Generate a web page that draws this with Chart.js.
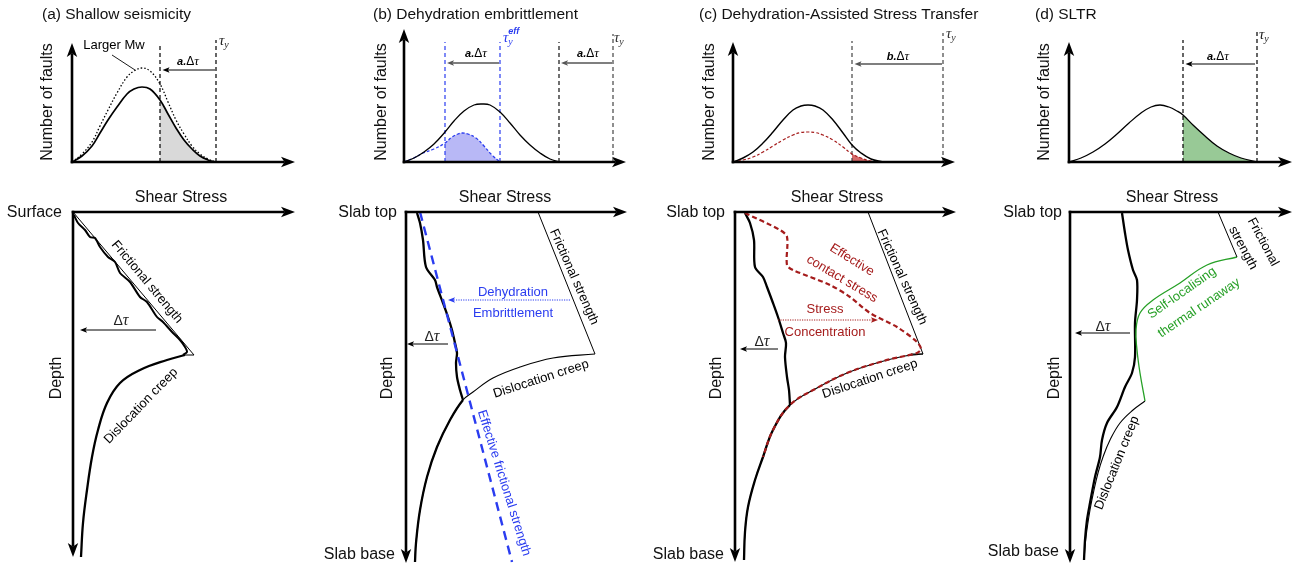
<!DOCTYPE html>
<html><head><meta charset="utf-8">
<script src="https://cdn.jsdelivr.net/npm/chart.js@4.4.1/dist/chart.umd.min.js"></script>
<style>
html,body{margin:0;padding:0;background:#fff;width:1304px;height:567px;overflow:hidden}
canvas{position:absolute;left:0;top:0}
</style></head><body>
<script>
// ======================= DATA =======================
// Top row: distribution of fault stress (x = shear stress, y = number of faults)
// (a) Shallow seismicity
const aTopStress = [0,10,20,28,36,45,55,62,70,78,88,96,104,112,120,128,136,143];
const aTopFaults = [0,6,16,29,42,55,68,73,75,73,62,48,34,22,13,6,2,0];
const aTopFaultsLargerMw = [0,8,20,36,52,69,85,91,94,91,78,60,42,28,16,8,3,0];
const aTopFailure = 88, aTopTauY = 144;
// (b) Dehydration embrittlement
const bTopStress = [0,10,20,30,41,50,60,70,78,86,96,106,116,126,136,146,156];
const bTopFaults = [0,4,10,18,30,41,51,57,58,57,50,39,27,17,9,3,0];
const bTopStressEff = [0,10,19,30,41,48,54,58,64,72,80,88,96];
const bTopFaultsEff = [0,4,9,13,19,25,28,29,28,24,16,7,0];
const bTopEffFailure = 41, bTopTauYEff = 96, bTopFailure = 155, bTopTauY = 209;
// (c) Dehydration-Assisted Stress Transfer
const cTopStress = [0,10,20,30,40,50,60,68,75,82,90,100,110,119,128,138,150];
const cTopFaults = [0,4,10,19,30,42,52,56,57,56,52,42,29,17,9,3,0];
const cTopFaultsEff = [0,2,5,10,16,22,27,29.5,30,29.5,27,22,15,8,4,1,0];
const cTopFailure = 119, cTopTauY = 210;
// (d) SLTR
const dTopStress = [0,12,24,36,48,60,72,82,91,100,108,114,124,136,148,160,172,188];
const dTopFaults = [0,4,10,18,28,39,49,55,57,55,51,47,37,26,16,9,4,0];
const dTopFailure = 114, dTopTauY = 188;

// Bottom row: strength profiles, [shear stress, depth]
const aFriction = [[0,0],[121,143],[112,143]];
const aCreep = [[112,143],[94,148],[67,158],[47,171],[34,191],[25,218],[19,245],[14,278],[10,311],[8,345]];
const aStress = [[1,3],[5,11],[12,18],[17,25],[22,26],[27,35],[35,45],[42,50],[47,61],[57,70],[67,85],[74,90],[84,105],[90,110],[100,121],[107,128],[112,135],[114,140],[110,143]];

const bFriction = [[132,0],[189,142]];
const bCreep = [[189,142],[147,146],[114,155],[87,166],[67,180],[57,188],[44,208],[31,235],[21,265],[14,298],[10,331],[9,350]];
const bStress = [[11,1],[14,11],[17,28],[20,55],[29,68],[31,75],[37,91],[42,105],[46,118],[49,131],[51,141],[50,151],[51,165],[54,178],[57,188]];
const bJunctionDepth = 188;
const bEffFriction = [[14,0],[106,350]];

const cFriction = [[133,0],[188,142],[176,142]];
const cCreep = [[188,142],[170,144],[145,150],[112,161],[82,176],[55,193],[38,218],[28,245],[20,268],[13,295],[10,320],[9,348]];
const cStress = [[10,1],[15,11],[19,28],[20,55],[28,65],[32,75],[38,91],[43,105],[48,121],[51,131],[50,145],[52,165],[54,178],[55,193]];
const cJunctionDepth = 193;
const cContact = [[10,1],[45,18],[52,25],[52,53],[58,58],[95,73],[115,85],[135,101],[162,115],[182,130],[186,137],[182,141],[170,144]];
const cContactCreepFrom = 144, cContactCreepTo = 245;

const dFriction = [[148,0],[167,45]];
const dRunaway = [[167,45],[137,53],[110,71],[83,88],[70,101],[66,118],[67,138],[70,161],[75,189]];
const dCreep = [[75,189],[63,198],[50,211],[40,228],[33,245],[28,261],[24,278],[20,298],[16,325],[14,348]];
const dStress = [[52,1],[55,21],[58,38],[63,58],[67,68],[67,88],[65,111],[65,145],[62,161],[55,175],[47,195],[37,211],[32,228],[30,245],[25,265],[20,291],[17,308],[15,328],[14,348]];

// ======================= RENDER =======================
const W = 1304, H = 567;
const SANS = '"Liberation Sans", Arial, Helvetica, sans-serif';
const SERIF = '"Liberation Serif", "DejaVu Serif", "Times New Roman", serif';
const BLUE = '#2a3cf0', RED = '#a51c1c', GREEN = '#26a026';
const NONE = 'rgba(0,0,0,0)';

const xy2 = (xs, ys) => xs.map((x, i) => ({x, y: ys[i]}));
const xy = arr => arr.map(([x, y]) => ({x, y}));
const vline = (x, top) => [{x, y: 0}, {x, y: top}];

function line(data, color, width, dash, extra) {
  return Object.assign({data, showLine: true, borderColor: color, borderWidth: width, borderDash: dash || [],
    pointRadius: 0, fill: false, tension: 0.4, clip: false, order: 1, borderCapStyle: 'butt'}, extra || {});
}
// same geometry as the full curve, drawn only between two depths
function partial(data, color, width, dash, from, to, extra) {
  return line(data, color, width, dash, Object.assign({
    segment: {borderColor: s => (s.p0.parsed.y >= from && s.p1.parsed.y <= to) ? color : NONE}
  }, extra || {}));
}
function area(data, color) {
  return {data, showLine: true, borderColor: NONE, borderWidth: 0, backgroundColor: color,
    fill: 'origin', pointRadius: 0, tension: 0.4, clip: false, order: 9};
}

function rich(ctx, segs, x, y, align, rot, color) {
  ctx.save(); ctx.translate(x, y); if (rot) ctx.rotate(rot * Math.PI / 180);
  ctx.fillStyle = color || '#000'; ctx.textBaseline = 'middle'; ctx.textAlign = 'left';
  let w = 0;
  for (const s of segs) { ctx.font = s.f; s.w = ctx.measureText(s.t).width; if (s.adv !== false) w += s.w; }
  let cx = align === 'center' ? -w / 2 : align === 'right' ? -w : 0;
  for (const s of segs) { ctx.font = s.f; ctx.fillText(s.t, cx, s.dy || 0); if (s.adv !== false) cx += s.w; }
  ctx.restore();
}
const P = (c, x, y) => [c.scales.x.getPixelForValue(x), c.scales.y.getPixelForValue(y)];
function txt(c, t, x, y, o) {
  o = o || {};
  const [px, py] = P(c, x, y);
  rich(c.ctx, [{t, f: `${o.s || 13}px ${SANS}`}], px, py, o.al || 'center', o.r || 0, o.col || '#000');
}
function segsAt(c, segs, x, y, al, col) { const [px, py] = P(c, x, y); rich(c.ctx, segs, px, py, al || 'center', 0, col); }
const dtau = s => [{t: 'Δ', f: `${s}px ${SANS}`}, {t: 'τ', f: `italic ${s + 2}px ${SERIF}`}];
const adtau = l => [{t: l + '.', f: `bold italic 11px ${SANS}`}, {t: 'Δ', f: `12px ${SANS}`}, {t: 'τ', f: `italic 13px ${SERIF}`}];
const tauy = () => [{t: 'τ', f: `italic 15px ${SERIF}`}, {t: 'y', f: `italic 10px ${SERIF}`, dy: 4}];
const tauyEff = () => [{t: 'τ', f: `italic 15px ${SERIF}`}, {t: 'y', f: `italic 10px ${SERIF}`, dy: 4, adv: false}, {t: 'eff', f: `bold italic 9px ${SANS}`, dy: -6}];

function headAt(ctx, x, y, ang, L, Hh, notch, col) {
  ctx.save(); ctx.translate(x, y); ctx.rotate(ang);
  ctx.beginPath(); ctx.moveTo(0, 0); ctx.lineTo(-L, -Hh); ctx.lineTo(-L + notch, 0); ctx.lineTo(-L, Hh); ctx.closePath();
  ctx.fillStyle = col; ctx.fill(); ctx.restore();
}
function pxArrow(ctx, x1, y1, x2, y2, o) {
  const col = o.col || '#000', L = o.L || 7, Hh = o.H || 2.8, N = o.N == null ? 1.5 : o.N;
  const ang = Math.atan2(y2 - y1, x2 - x1);
  ctx.save(); ctx.strokeStyle = col; ctx.lineWidth = o.w || 1; ctx.setLineDash(o.dash || []);
  ctx.beginPath(); ctx.moveTo(x1, y1); ctx.lineTo(x2 - Math.cos(ang) * (L - N), y2 - Math.sin(ang) * (L - N)); ctx.stroke();
  ctx.restore();
  headAt(ctx, x2, y2, ang, L, Hh, N, col);
}
function dArrow(c, x1, y1, x2, y2, o) { const [a, b] = P(c, x1, y1), [d, e] = P(c, x2, y2); pxArrow(c.ctx, a, b, d, e, o || {}); }
function dSeg(c, x1, y1, x2, y2, col, w) {
  const [a, b] = P(c, x1, y1), [d, e] = P(c, x2, y2), ctx = c.ctx;
  ctx.save(); ctx.strokeStyle = col; ctx.lineWidth = w; ctx.beginPath(); ctx.moveTo(a, b); ctx.lineTo(d, e); ctx.stroke(); ctx.restore();
}
const AX = {w: 2.6, L: 14, H: 5.2, N: 3.5};
function topFrame(c, title, titleDx, ylDx) {
  const a = c.chartArea, ctx = c.ctx;
  pxArrow(ctx, a.left, a.bottom + 1.3, a.left, a.top, AX);
  pxArrow(ctx, a.left - 1.3, a.bottom, a.right, a.bottom, AX);
  rich(ctx, [{t: title, f: `15.5px ${SANS}`}], a.left + titleDx, 15, 'left', 0, '#111');
  rich(ctx, [{t: 'Number of faults', f: `16px ${SANS}`}], a.left + ylDx, 102, 'center', -90, '#111');
}
function botFrame(c, o) {
  const a = c.chartArea, ctx = c.ctx;
  pxArrow(ctx, a.left - 1.3, a.top, a.right, a.top, AX);
  pxArrow(ctx, a.left, a.top - 1.3, a.left, a.bottom, AX);
  rich(ctx, [{t: 'Shear Stress', f: `16px ${SANS}`}], a.left + o.ssDx, 198, 'center', 0, '#111');
  rich(ctx, [{t: 'Depth', f: `16px ${SANS}`}], a.left + o.depDx, 378, 'center', -90, '#111');
  rich(ctx, [{t: o.topLbl, f: `16px ${SANS}`}], a.left + o.topDx, 213, 'right', 0, '#111');
  if (o.baseLbl) rich(ctx, [{t: o.baseLbl, f: `16px ${SANS}`}], a.left + o.baseDx, o.baseY, 'right', 0, '#111');
}

function makeChart(box, reverse, datasets, deco) {
  const cv = document.createElement('canvas'); cv.width = W; cv.height = H; document.body.appendChild(cv);
  return new Chart(cv, {
    type: 'line',
    data: {datasets},
    options: {
      responsive: false, animation: false, devicePixelRatio: 1, events: [],
      layout: {padding: {left: box.x0, right: W - box.x1, top: box.y0, bottom: H - box.y1}},
      scales: {
        x: {type: 'linear', display: false, min: 0, max: box.x1 - box.x0},
        y: {type: 'linear', display: false, min: 0, max: box.y1 - box.y0, reverse}
      },
      elements: {line: {capBezierPoints: false}, point: {radius: 0}},
      plugins: {legend: {display: false}, tooltip: {enabled: false}, title: {display: false}}
    },
    plugins: [{id: 'deco', afterDatasetsDraw(c) { deco(c); }}]
  });
}

// ---------- top (a) ----------
makeChart({x0: 72, x1: 295, y0: 43, y1: 162}, false, [
  area(xy2(aTopStress, aTopFaults).filter(p => p.x >= aTopFailure), '#d9d9d9'),
  line(xy2(aTopStress, aTopFaults), '#000', 1.7),
  line(xy2(aTopStress, aTopFaultsLargerMw), '#000', 1.3, [1.5, 2]),
  line(vline(aTopFailure, 119), '#000', 1.2, [4, 3], {tension: 0}),
  line(vline(aTopTauY, 122), '#000', 1.2, [4, 3], {tension: 0})
], c => {
  topFrame(c, '(a) Shallow seismicity', -30, -24);
  txt(c, 'Larger Mw', 42, 117, {s: 13});
  dSeg(c, 40, 107, 63, 92, '#000', 0.9);
  dArrow(c, aTopTauY - 1, 92, aTopFailure + 2.5, 92, {w: 1});
  segsAt(c, adtau('a'), 116, 100);
  segsAt(c, tauy(), aTopTauY + 3, 121, 'left', '#222');
});

// ---------- top (b) ----------
makeChart({x0: 404, x1: 626, y0: 29, y1: 162}, false, [
  area(xy2(bTopStressEff, bTopFaultsEff).filter(p => p.x >= bTopEffFailure), '#b8b8f6'),
  line(xy2(bTopStress, bTopFaults), '#000', 1.3),
  line(xy2(bTopStressEff, bTopFaultsEff), BLUE, 1.3, [3, 2]),
  line(vline(bTopEffFailure, 120), BLUE, 1.2, [4, 3], {tension: 0}),
  line(vline(bTopTauYEff, 120), BLUE, 1.2, [4, 3], {tension: 0}),
  line(vline(bTopFailure, 120), '#111', 1.2, [4, 3], {tension: 0}),
  line(vline(bTopTauY, 128), '#444', 1.2, [4, 3], {tension: 0})
], c => {
  topFrame(c, '(b) Dehydration embrittlement', -31, -22);
  dArrow(c, bTopTauYEff - 1, 99, bTopEffFailure + 2, 99, {w: 1.6, col: '#555'});
  dArrow(c, bTopTauY - 1, 99, bTopFailure + 2, 99, {w: 1.6, col: '#555'});
  segsAt(c, adtau('a'), 72, 108);
  segsAt(c, adtau('a'), 184, 108);
  segsAt(c, tauyEff(), bTopTauYEff + 3, 124, 'left', BLUE);
  segsAt(c, tauy(), bTopTauY + 1, 124, 'left', '#333');
});

// ---------- top (c) ----------
makeChart({x0: 733, x1: 955, y0: 42, y1: 162}, false, [
  area(xy2(cTopStress, cTopFaultsEff).filter(p => p.x >= cTopFailure), '#d66a6a'),
  line(xy2(cTopStress, cTopFaults), '#000', 1.4),
  line(xy2(cTopStress, cTopFaultsEff), RED, 1.2, [3, 2]),
  line(vline(cTopFailure, 121), '#444', 1.2, [4, 3], {tension: 0}),
  line(vline(cTopTauY, 129), '#444', 1.2, [4, 3], {tension: 0})
], c => {
  topFrame(c, '(c) Dehydration-Assisted Stress Transfer', -34, -23);
  dArrow(c, cTopTauY - 1, 98, cTopFailure + 2.5, 98, {w: 1.6, col: '#555'});
  segsAt(c, adtau('b'), 165, 105);
  segsAt(c, tauy(), cTopTauY + 3, 128, 'left', '#333');
});

// ---------- top (d) ----------
makeChart({x0: 1069, x1: 1292, y0: 42, y1: 162}, false, [
  area(xy2(dTopStress, dTopFaults).filter(p => p.x >= dTopFailure), '#98c996'),
  line(xy2(dTopStress, dTopFaults), '#000', 1.3),
  line(vline(dTopFailure, 122), '#000', 1.2, [4, 3], {tension: 0}),
  line(vline(dTopTauY, 130), '#000', 1.2, [4, 3], {tension: 0})
], c => {
  topFrame(c, '(d) SLTR', -34, -24);
  dArrow(c, dTopTauY - 2, 98, dTopFailure + 2.5, 98, {w: 1});
  segsAt(c, adtau('a'), 149, 105);
  segsAt(c, tauy(), dTopTauY + 2, 127, 'left', '#222');
});

// ---------- bottom (a) ----------
makeChart({x0: 73, x1: 295, y0: 212, y1: 557}, true, [
  line(xy(aFriction), '#000', 1, [], {tension: 0}),
  line(xy(aCreep), '#000', 2.3),
  line(xy(aStress), '#000', 2, [], {tension: 0.25})
], c => {
  botFrame(c, {ssDx: 108, depDx: -16, topLbl: 'Surface', topDx: -11});
  dArrow(c, 83, 118, 7, 118, {w: 1});
  segsAt(c, dtau(14), 48, 109, 'center', '#222');
  txt(c, 'Frictional strength', 74, 70, {r: 50});
  txt(c, 'Dislocation creep', 68, 194, {r: -46});
});

// ---------- bottom (b) ----------
makeChart({x0: 406, x1: 627, y0: 212, y1: 563}, true, [
  line(xy(bFriction), '#000', 1, [], {tension: 0}),
  line(xy(bCreep), '#000', 1.1),
  line(xy(bStress), '#000', 2.3, [], {tension: 0.3}),
  partial(xy(bCreep), '#000', 2.3, [], bJunctionDepth, 1e9),
  line(xy(bEffFriction), BLUE, 2.4, [9, 6], {tension: 0, order: 0})
], c => {
  botFrame(c, {ssDx: 99, depDx: -18, topLbl: 'Slab top', topDx: -9, baseLbl: 'Slab base', baseDx: -11, baseY: 555});
  dArrow(c, 164, 88, 42, 88, {w: 1, col: BLUE, dash: [1.2, 1.2]});
  txt(c, 'Dehydration', 107, 80, {col: BLUE});
  txt(c, 'Embrittlement', 107, 101, {col: BLUE});
  dArrow(c, 42, 132, 1, 132, {w: 1});
  segsAt(c, dtau(14), 26, 125, 'center', '#222');
  txt(c, 'Frictional strength', 168, 65, {r: 66});
  txt(c, 'Dislocation creep', 135, 167, {r: -18});
  txt(c, 'Effective frictional strength', 98, 271, {r: 72.5, col: BLUE});
});

// ---------- bottom (c) ----------
makeChart({x0: 735, x1: 956, y0: 212, y1: 562}, true, [
  line(xy(cFriction), '#000', 1, [], {tension: 0}),
  line(xy(cCreep), '#000', 1.1),
  line(xy(cStress), '#000', 2.3, [], {tension: 0.3}),
  partial(xy(cCreep), '#000', 2.3, [], cJunctionDepth, 1e9),
  line(xy(cContact), RED, 2.2, [5, 3], {tension: 0.3, order: 0}),
  partial(xy(cCreep), RED, 2.2, [5, 3], cContactCreepFrom, cContactCreepTo, {order: 0})
], c => {
  botFrame(c, {ssDx: 102, depDx: -18, topLbl: 'Slab top', topDx: -10, baseLbl: 'Slab base', baseDx: -11, baseY: 555});
  dArrow(c, 43, 108, 143, 108, {w: 1, col: RED, dash: [1.2, 1.2]});
  txt(c, 'Stress', 90, 97, {col: RED});
  txt(c, 'Concentration', 90, 120, {col: RED});
  txt(c, 'Effective', 117, 48, {col: RED, r: 32});
  txt(c, 'contact stress', 107, 67, {col: RED, r: 31});
  dArrow(c, 43, 137, 5, 137, {w: 1});
  segsAt(c, dtau(14), 27, 130, 'center', '#222');
  txt(c, 'Frictional strength', 167, 65, {r: 65.5});
  txt(c, 'Dislocation creep', 135, 167, {r: -18.5});
});

// ---------- bottom (d) ----------
makeChart({x0: 1070, x1: 1292, y0: 212, y1: 563}, true, [
  line(xy(dFriction), '#000', 1, [], {tension: 0}),
  line(xy(dRunaway), GREEN, 1.3),
  line(xy(dCreep), '#000', 1.1),
  line(xy(dStress), '#000', 2.3, [], {tension: 0.3})
], c => {
  botFrame(c, {ssDx: 102, depDx: -15, topLbl: 'Slab top', topDx: -8, baseLbl: 'Slab base', baseDx: -11, baseY: 552});
  dArrow(c, 60, 121, 5, 121, {w: 1});
  segsAt(c, dtau(14), 33, 115, 'center', '#222');
  txt(c, 'Frictional', 193, 30, {r: 62});
  txt(c, 'strength', 173, 36, {r: 62});
  txt(c, 'Self-localising', 112, 81, {col: GREEN, r: -35});
  txt(c, 'thermal runaway', 129, 96, {col: GREEN, r: -34});
  txt(c, 'Dislocation creep', 47, 251, {r: -68});
});
</script>
</body></html>
